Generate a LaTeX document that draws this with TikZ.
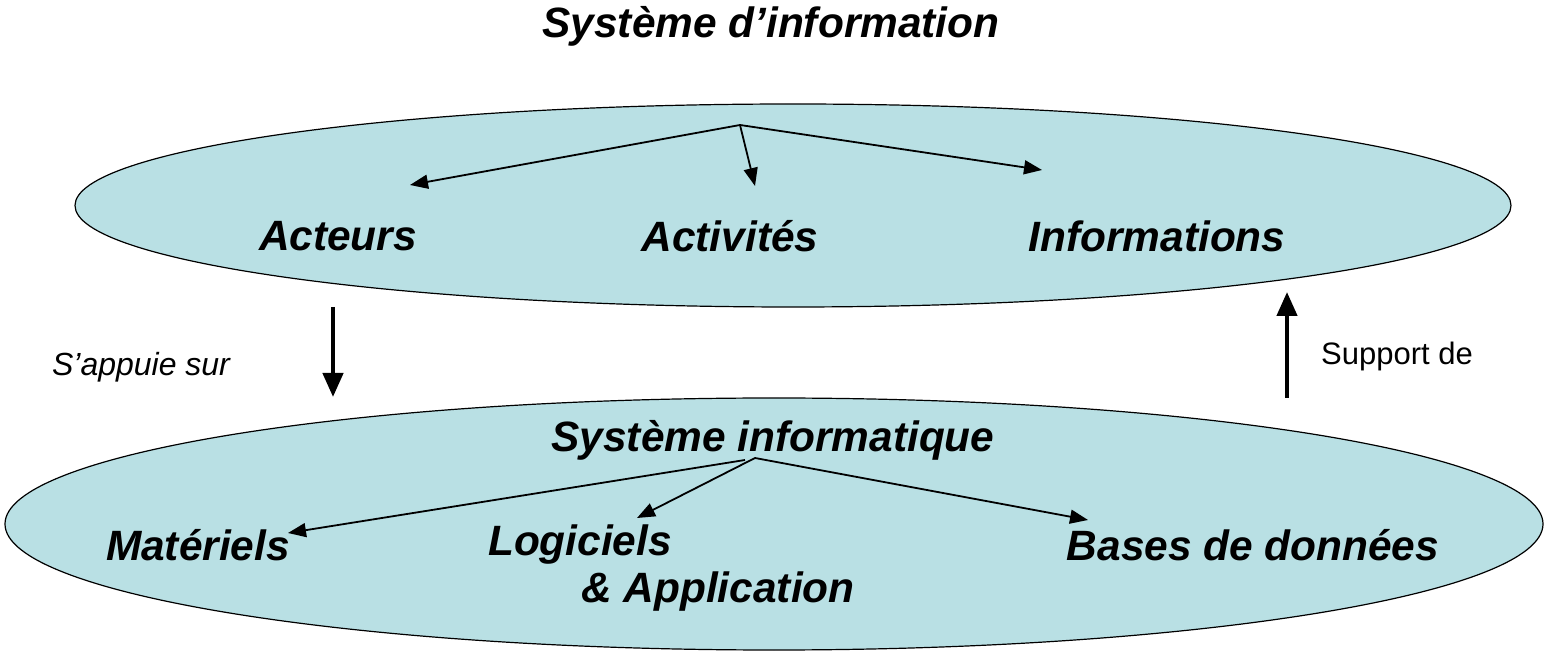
\documentclass[tikz,border=0pt]{standalone}
\usepackage{fontspec}
\setmainfont{Liberation Sans}
\usetikzlibrary{arrows.meta}
\definecolor{ellfill}{RGB}{185,224,228}
\begin{document}
\begin{tikzpicture}[x=0.5pt,y=-0.5pt,
  ell/.style={draw=black,line width=0.6pt,fill=ellfill},
  lab/.style={font=\fontsize{21.2}{24}\selectfont\bfseries\itshape,inner sep=0pt},
  small/.style={font=\fontsize{15.5}{18}\selectfont,inner sep=0pt},
  thin arrow/.style={line width=0.9pt,-{Triangle[length=9pt,width=7pt]}},
  thick arrow/.style={line width=2.2pt,-{Triangle[length=12pt,width=10pt]}}]
\useasboundingbox (0,0) rectangle (1547,667);
% ellipses
\path[ell] (793,205.5) ellipse [x radius=718, y radius=101.5];
\path[ell] (774,524) ellipse [x radius=769, y radius=126];
% titles
\node[lab] (si) at (771,26) {Système d’information};
\node[lab] (sinf) at (773,440) {Système informatique};
% top labels
\node[lab] (act) at (338,236) {Acteurs};
\node[lab] (acv) at (730,236) {Activités};
\node[lab] (inf) at (1157,236) {Informations};
% bottom labels
\node[lab] (mat) at (198,545) {Matériels};
\node[lab] (log) at (580,545) {Logiciels};
\node[lab] (app) at (718,592) {\& Application};
\node[lab] (bdd) at (1253,545) {Bases de données};
\node[small,font=\fontsize{16}{18}\selectfont\itshape] (app1) at (141,367) {S’appuie sur};
\node[small] (sup) at (1397,356) {Support de};
% connector points
\coordinate (r1) at (740,125);
\coordinate (a1) at (410,185);
\coordinate (a2) at (755,186);
\coordinate (a3) at (1042,170);
\coordinate (r2) at (755,458);
\coordinate (r2l) at (745,460);
\coordinate (b1) at (288,533);
\coordinate (b2) at (637,518);
\coordinate (b3) at (1088,520);
\draw[thin arrow] (r1) -- (a1);
\draw[thin arrow] (r1) -- (a2);
\draw[thin arrow] (r1) -- (a3);
\draw[thin arrow] (r2l) -- (b1);
\draw[thin arrow] (r2) -- (b2);
\draw[thin arrow] (r2) -- (b3);
% thick arrows
\coordinate (d1) at (333,307);
\coordinate (d2) at (333,397);
\coordinate (u1) at (1287,398);
\coordinate (u2) at (1287,292);
\draw[thick arrow] (d1) -- (d2);
\draw[thick arrow] (u1) -- (u2);
\end{tikzpicture}
\end{document}
